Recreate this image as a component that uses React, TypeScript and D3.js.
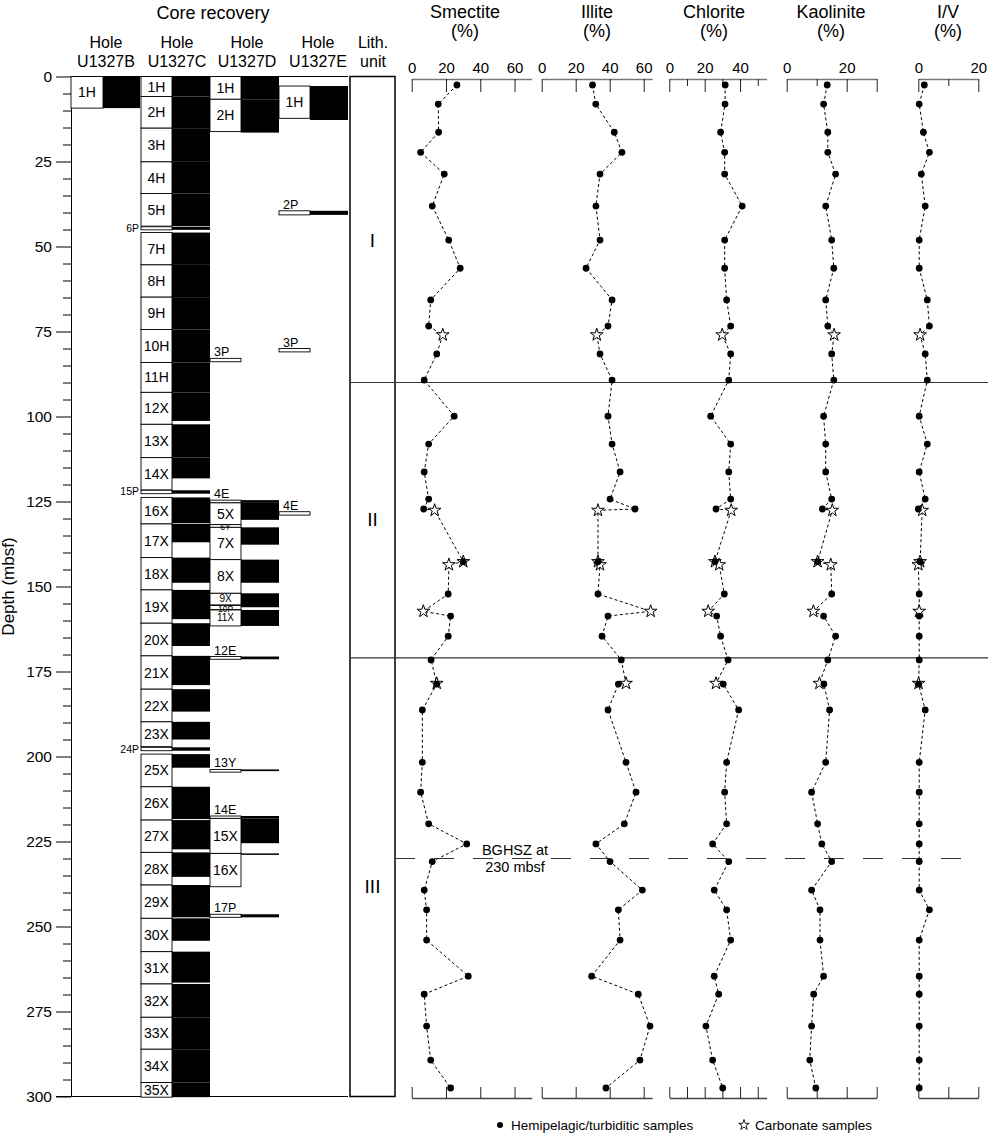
import React, { useEffect, useRef } from 'react';
import * as d3 from 'd3';

// sample depths (mbsf)
const dotDepths = [2.5, 8.1, 16.4, 22.3, 28.7, 38.1, 48.1, 56.4, 65.7, 73.4, 81.6, 89.3, 99.9, 108.1, 116.3, 124.3, 127.2, 142.7, 152.2, 158.7, 164.6, 171.6, 178.7, 186.3, 201.7, 210.5, 219.8, 225.7, 230.9, 239.3, 245.1, 254.0, 264.6, 269.9, 279.3, 289.3, 297.5];
const starDepths = [76.0, 127.6, 142.7, 143.6, 157.3, 178.5];

// hemipelagic / turbiditic samples (%)
const smectiteDots = [26.4, 15.5, 15.7, 5.2, 19.0, 12.0, 21.6, 28.3, 11.1, 9.9, 14.6, 7.3, 24.8, 9.9, 7.3, 9.9, 7.0, 30.1, 21.3, 22.7, 21.3, 11.3, 14.6, 6.2, 6.2, 5.2, 9.9, 32.1, 12.0, 7.3, 8.7, 8.7, 33.0, 7.3, 8.7, 11.1, 22.7];
const illiteDots = [29.9, 31.8, 42.7, 47.2, 34.3, 31.9, 34.3, 26.1, 41.4, 39.0, 34.3, 41.4, 39.0, 41.4, 46.1, 40.2, 54.9, 33.1, 33.1, 39.0, 35.5, 46.8, 45.1, 39.0, 49.6, 55.5, 48.6, 31.9, 40.2, 59.2, 45.1, 46.1, 29.4, 56.8, 63.7, 57.8, 37.8];
const chloriteDots = [31.6, 31.5, 29.0, 31.3, 31.3, 41.2, 31.3, 31.3, 32.4, 34.7, 34.7, 33.6, 23.4, 34.7, 33.6, 34.7, 26.4, 25.8, 31.1, 26.8, 29.0, 33.2, 30.5, 39.2, 32.4, 31.3, 32.4, 24.5, 33.6, 25.4, 32.4, 34.7, 25.4, 27.9, 20.7, 24.5, 30.2];
const kaoliniteDots = [13.5, 12.3, 13.7, 13.7, 16.3, 13.0, 15.0, 15.7, 13.0, 13.7, 15.0, 15.7, 12.3, 13.0, 13.0, 15.0, 11.9, 10.3, 15.0, 12.3, 16.3, 13.7, 12.4, 14.3, 13.0, 8.3, 10.3, 11.7, 15.0, 8.3, 11.1, 11.1, 12.3, 9.0, 8.3, 7.7, 9.7];
const ivDots = [2.0, 0.3, 1.7, 3.7, 1.0, 2.3, 0.3, 0.3, 3.0, 3.7, 2.3, 3.0, 0.3, 3.0, 0.3, 2.3, 0, 0.6, 0.3, 0.3, 0.3, 0.3, 0.1, 2.3, 0.3, 0.3, 0.3, 0.3, 0.3, 0.3, 3.7, 0.3, 0.3, 0.3, 0.3, 0.3, 0.3];

// carbonate samples (%)
const smectiteStars = [18.1, 13.4, 30.1, 21.7, 6.8, 14.6];
const illiteStars = [32.4, 33.1, 33.1, 34.3, 64.1, 49.6];
const chloriteStars = [29.9, 35.0, 25.8, 28.2, 22.0, 26.4];
const kaoliniteStars = [15.8, 15.2, 10.3, 14.7, 8.9, 10.9];
const ivStars = [0.6, 1.3, 0.6, 0, 0.3, 0.1];

// cores: [name, top, base, recovered to (null = none), label mode]
type Core = [string, number, number, number | null, string];
const holeB: Core[] = [['1H', 0, 9.3, 9.3, 'c']];
const holeC: Core[] = [
  ['1H', 0, 5.9, 5.9, 'c'], ['2H', 5.9, 15.2, 15.2, 'c'], ['3H', 15.2, 25.1, 25.1, 'c'],
  ['4H', 25.1, 34.4, 34.4, 'c'], ['5H', 34.4, 44.0, 44.0, 'c'], ['6P', 44.2, 45.1, 45.1, 'l'],
  ['7H', 45.9, 55.4, 55.4, 'c'], ['8H', 55.4, 64.9, 64.9, 'c'], ['9H', 64.9, 74.4, 74.4, 'c'],
  ['10H', 74.4, 84.1, 84.1, 'c'], ['11H', 84.1, 92.9, 92.9, 'c'], ['12X', 92.9, 102.3, 101.3, 'c'],
  ['13X', 102.3, 112.1, 112.1, 'c'], ['14X', 112.1, 121.6, 118.2, 'c'], ['15P', 121.7, 122.7, 122.7, 'l'],
  ['16X', 123.8, 131.6, 131.4, 'c'], ['17X', 131.6, 141.5, 137.0, 'c'], ['18X', 141.5, 151.0, 148.9, 'c'],
  ['19X', 151.0, 160.8, 159.6, 'c'], ['20X', 160.8, 170.4, 167.5, 'c'], ['21X', 170.4, 180.2, 179.0, 'c'],
  ['22X', 180.2, 189.8, 186.8, 'c'], ['23X', 189.8, 197.1, 195.0, 'c'], ['24P', 197.3, 198.3, 198.3, 'l'],
  ['25X', 199.3, 208.9, 203.3, 'c'], ['26X', 208.9, 218.7, 218.4, 'c'], ['27X', 218.7, 228.2, 227.3, 'c'],
  ['28X', 228.2, 237.8, 235.4, 'c'], ['29X', 237.8, 247.6, 247.3, 'c'], ['30X', 247.6, 257.4, 254.2, 'c'],
  ['31X', 257.4, 266.9, 266.5, 'c'], ['32X', 266.9, 276.7, 276.7, 'c'], ['33X', 276.7, 286.1, 286.1, 'c'],
  ['34X', 286.1, 295.9, 295.9, 'c'], ['35X', 295.9, 300.2, 300.2, 'c'],
];
const holeD: Core[] = [
  ['1H', 0, 6.7, 6.7, 'c'], ['2H', 6.7, 16.2, 16.5, 'c'], ['3P', 82.9, 83.9, null, 'a'],
  ['4E', 124.6, 125.4, 125.4, 'a'], ['5X', 125.4, 131.8, 130.4, 'c'], ['6Y', 131.8, 132.6, null, 'o'],
  ['7X', 132.6, 142.1, 137.7, 'c'], ['8X', 142.1, 152.0, 148.9, 'c'], ['9X', 152.0, 155.4, 156.1, 's'],
  ['10P', 155.6, 156.8, null, 'o'], ['11X', 156.9, 161.6, 161.6, 's'], ['12E', 170.6, 171.4, 171.4, 'a'],
  ['13Y', 203.8, 204.6, 204.3, 'a'], ['14E', 217.5, 218.2, 218.2, 'a'], ['15X', 218.2, 228.5, 225.5, 'c'],
  ['16X', 228.5, 238.3, 228.9, 'c'], ['17P', 246.4, 247.3, 247.3, 'a'],
];
const holeE: Core[] = [
  ['1H', 2.8, 12.3, 12.8, 'c'], ['2P', 39.5, 40.7, 40.7, 'a'], ['3P', 80.0, 81.0, null, 'a'], ['4E', 128.0, 129.0, null, 'a'],
];

const holeNames = ['U1327B', 'U1327C', 'U1327D', 'U1327E'];
const lithUnits = ['I', 'II', 'III'];
const unitBounds = [0, 90, 171, 300];
const unitLabelDepths = [48, 130, 238];
const bghszDepth = 230;

const FONT = '"Liberation Sans", Arial, Helvetica, sans-serif';

const App: React.FC = () => {
  const ref = useRef<SVGSVGElement>(null);

  useEffect(() => {
    const svg = d3.select(ref.current);
    svg.selectAll('*').remove();
    svg.attr('font-family', FONT);

    const y = d3.scaleLinear().domain([0, 300]).range([76.5, 1096.5]);

    // depth axis
    const major = svg.append('g').attr('transform', 'translate(71,0)')
      .call(d3.axisLeft(y).tickValues(d3.range(0, 301, 25)).tickSize(15).tickSizeOuter(0).tickPadding(4));
    major.attr('font-size', 15.5).attr('font-family', FONT);
    major.selectAll('text').attr('fill', '#000');
    major.selectAll('line, path').attr('stroke', '#000');
    const minor = svg.append('g').attr('transform', 'translate(71,0)')
      .call(d3.axisLeft(y).tickValues(d3.range(0, 301, 5).filter((v) => v % 25 !== 0)).tickSize(8).tickFormat(() => ''));
    minor.select('.domain').remove();
    minor.selectAll('line').attr('stroke', '#000');

    svg.append('text')
      .attr('transform', `translate(14,${y(150)}) rotate(-90)`)
      .attr('text-anchor', 'middle').attr('font-size', 17).text('Depth (mbsf)');

    svg.append('line').attr('x1', 71).attr('x2', 348).attr('y1', y(0)).attr('y2', y(0)).attr('stroke', '#000');
    svg.append('line').attr('x1', 56).attr('x2', 348).attr('y1', y(300)).attr('y2', y(300)).attr('stroke', '#000');

    // headers
    svg.append('text').attr('x', 213).attr('y', 19).attr('text-anchor', 'middle').attr('font-size', 18).text('Core recovery');
    const cols = [[71, 103, 140], [141, 172, 210], [210, 241, 279], [279, 310, 348]];
    const headerX = [106, 177, 247, 318];
    holeNames.forEach((h, i) => {
      svg.append('text').attr('x', headerX[i]).attr('y', 48).attr('text-anchor', 'middle').attr('font-size', 16).text('Hole');
      svg.append('text').attr('x', headerX[i]).attr('y', 67).attr('text-anchor', 'middle').attr('font-size', 16).text(h);
    });
    svg.append('text').attr('x', 373).attr('y', 48).attr('text-anchor', 'middle').attr('font-size', 16).text('Lith.');
    svg.append('text').attr('x', 373).attr('y', 67).attr('text-anchor', 'middle').attr('font-size', 16).text('unit');

    // cores: boxes first, labels after so thin-core labels stay on top
    const holes = [holeB, holeC, holeD, holeE];
    holes.forEach((hole, hi) => {
      const [x0, x1, x2] = cols[hi];
      const g = svg.append('g');
      hole.forEach(([, top, base, rec]) => {
        if (rec !== null) {
          g.append('rect').attr('x', x1).attr('y', y(top)).attr('width', x2 - x1)
            .attr('height', Math.max(1.5, y(rec) - y(top))).attr('fill', '#000');
        }
        g.append('rect').attr('x', x0).attr('y', y(top)).attr('width', x1 - x0)
          .attr('height', y(base) - y(top)).attr('fill', '#fff').attr('stroke', '#000').attr('stroke-width', 0.9);
      });
    });
    holes.forEach((hole, hi) => {
      const [x0, x1] = cols[hi];
      const g = svg.append('g');
      hole.forEach(([name, top, base, , mode]) => {
        const mid = (y(top) + y(base)) / 2;
        const t = g.append('text').text(name);
        if (mode === 'c') {
          t.attr('x', (x0 + x1) / 2).attr('y', mid + 5).attr('text-anchor', 'middle').attr('font-size', 14);
        } else if (mode === 's') {
          t.attr('x', (x0 + x1) / 2).attr('y', mid + 3).attr('text-anchor', 'middle').attr('font-size', 10);
        } else if (mode === 'l') {
          t.attr('x', x0 - 2).attr('y', mid + 3.5).attr('text-anchor', 'end').attr('font-size', 10.5);
        } else if (mode === 'a') {
          t.attr('x', x0 + 4).attr('y', y(top) - 2).attr('font-size', 12.5);
        } else {
          t.attr('x', (x0 + x1) / 2).attr('y', mid + 4).attr('text-anchor', 'middle').attr('font-size', 8.5);
        }
      });
    });

    // lithology column
    svg.append('rect').attr('x', 350).attr('y', y(0)).attr('width', 45).attr('height', y(300) - y(0))
      .attr('fill', 'none').attr('stroke', '#000').attr('stroke-width', 1.5);
    lithUnits.forEach((u, i) => {
      svg.append('text').attr('x', 372.5).attr('y', y(unitLabelDepths[i]) + 7)
        .attr('text-anchor', 'middle').attr('font-size', 19).text(u);
    });
    unitBounds.slice(1, 3).forEach((d) => {
      svg.append('line').attr('x1', 350).attr('x2', 988).attr('y1', y(d)).attr('y2', y(d))
        .attr('stroke', '#333').attr('stroke-width', 1.2);
    });

    // BGHSZ
    svg.append('line').attr('x1', 395).attr('x2', 963).attr('y1', y(bghszDepth)).attr('y2', y(bghszDepth))
      .attr('stroke', '#333').attr('stroke-width', 1.2).attr('stroke-dasharray', '20,19');
    svg.append('text').attr('x', 515).attr('y', y(bghszDepth) - 4).attr('text-anchor', 'middle').attr('font-size', 14.5).text('BGHSZ at');
    svg.append('text').attr('x', 515).attr('y', y(bghszDepth) + 13).attr('text-anchor', 'middle').attr('font-size', 14.5).text('230 mbsf');

    // mineral panels
    const panels = [
      { title: 'Smectite', dots: smectiteDots, stars: smectiteStars, domain: [0, 70], range: [411.7, 531.7], ticks: [0, 20, 40, 60], labels: [0, 20, 40, 60], cx: 465 },
      { title: 'Illite', dots: illiteDots, stars: illiteStars, domain: [0, 65], range: [541.7, 652.2], ticks: [0, 20, 40, 60], labels: [0, 20, 40, 60], cx: 597 },
      { title: 'Chlorite', dots: chloriteDots, stars: chloriteStars, domain: [0, 55], range: [669.3, 766.6], ticks: [0, 10, 20, 30, 40, 50], labels: [0, 20, 40], cx: 714 },
      { title: 'Kaolinite', dots: kaoliniteDots, stars: kaoliniteStars, domain: [0, 30], range: [786.7, 876.7], ticks: [0, 10, 20, 30], labels: [0, 20], cx: 831 },
      { title: 'I/V', dots: ivDots, stars: ivStars, domain: [0, 20], range: [918.3, 978.3], ticks: [0, 10, 20], labels: [0, 20], cx: 948 },
    ];

    const star = d3.symbol(d3.symbolStar, 50);

    panels.forEach((p) => {
      const x = d3.scaleLinear().domain(p.domain).range(p.range);
      const longTick = (v: number) => p.labels.includes(v) || v === p.domain[1];

      svg.append('text').attr('x', p.cx).attr('y', 18).attr('text-anchor', 'middle').attr('font-size', 18).text(p.title);
      svg.append('text').attr('x', p.cx).attr('y', 37).attr('text-anchor', 'middle').attr('font-size', 18).text('(%)');

      const top = svg.append('g').attr('transform', 'translate(0,79)')
        .call(d3.axisTop(x).tickValues(p.ticks).tickSize(-13).tickSizeOuter(0).tickPadding(6)
          .tickFormat((d) => (p.labels.includes(+d) ? String(d) : '')));
      top.attr('font-size', 15).attr('font-family', FONT);
      top.selectAll('text').attr('fill', '#000');
      top.select('.domain').attr('stroke', '#777').attr('stroke-width', 1.3);
      top.selectAll('.tick line').attr('stroke', '#222')
        .attr('y2', (d: any) => (longTick(+d) ? 13 : 7));

      const bottom = svg.append('g').attr('transform', 'translate(0,1098)')
        .call(d3.axisBottom(x).tickValues(p.ticks).tickSize(-11).tickSizeOuter(0).tickFormat(() => ''));
      bottom.select('.domain').attr('stroke', '#444').attr('stroke-width', 1.3);
      bottom.selectAll('.tick line').attr('stroke', '#222');

      const pts = [
        ...p.dots.map((v, i) => ({ d: dotDepths[i], v })),
        ...p.stars.map((v, i) => ({ d: starDepths[i], v })),
      ].sort((a, b) => a.d - b.d);

      const line = d3.line<{ d: number; v: number }>().x((d) => x(d.v)).y((d) => y(d.d));
      svg.append('path').datum(pts).attr('d', line).attr('fill', 'none')
        .attr('stroke', '#000').attr('stroke-width', 1).attr('stroke-dasharray', '3,2.5');

      svg.append('g').selectAll('path').data(p.stars).enter().append('path')
        .attr('d', star() as string)
        .attr('transform', (v, i) => `translate(${x(v)},${y(starDepths[i])})`)
        .attr('fill', '#fff').attr('stroke', '#000').attr('stroke-width', 1);

      svg.append('g').selectAll('circle').data(p.dots).enter().append('circle')
        .attr('cx', (v) => x(v)).attr('cy', (v, i) => y(dotDepths[i])).attr('r', 3.4).attr('fill', '#000');
    });

    // legend
    svg.append('circle').attr('cx', 500).attr('cy', 1125).attr('r', 3).attr('fill', '#000');
    svg.append('text').attr('x', 511).attr('y', 1130).attr('font-size', 13.5).text('Hemipelagic/turbiditic samples');
    svg.append('path').attr('d', d3.symbol(d3.symbolStar, 34)() as string).attr('transform', 'translate(744,1125)')
      .attr('fill', '#fff').attr('stroke', '#000').attr('stroke-width', 0.9);
    svg.append('text').attr('x', 755).attr('y', 1130).attr('font-size', 13.5).text('Carbonate samples');
  }, []);

  return <svg ref={ref} width={990} height={1134} style={{ position: 'absolute', left: 0, top: 0, background: '#fff' }} />;
};

export default App;
